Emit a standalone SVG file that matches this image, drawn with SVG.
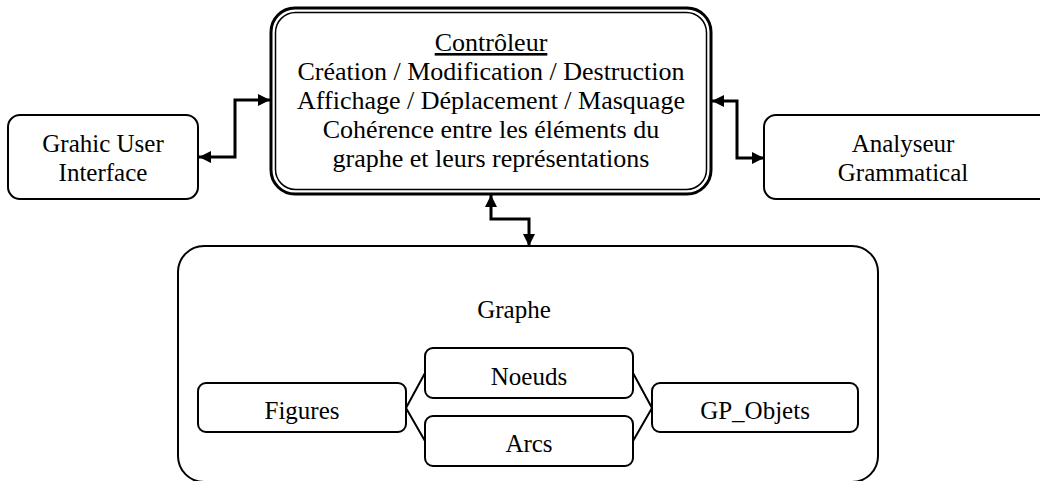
<svg xmlns="http://www.w3.org/2000/svg" width="1040" height="481" viewBox="0 0 1040 481">
<defs>
<style>
.box{fill:#fff;stroke:#000;stroke-width:2}
.t{font-size:25px;fill:#000;text-anchor:middle}
.tc{font-size:26px;fill:#000;text-anchor:middle}
.c{fill:none;stroke:#000;stroke-width:3}
.l{fill:none;stroke:#000;stroke-width:2}
</style>
<marker id="ah" viewBox="0 0 10 10" refX="10" refY="5" markerWidth="12" markerHeight="12" markerUnits="userSpaceOnUse" orient="auto-start-reverse">
<path d="M0,0 L10,5 L0,10 z" fill="#000"/>
</marker>
</defs>
<rect width="1040" height="481" fill="#fff"/>
<g id="controleur">
<rect x="271" y="8" width="440" height="186" rx="24" fill="#fff" stroke="#000" stroke-width="3"/>
<rect x="275.5" y="12.5" width="431" height="177" rx="20" fill="none" stroke="#000" stroke-width="1.5"/>
<text class="tc" style="font-family:'Liberation Serif'" x="491" y="51" text-decoration="underline">Contrôleur</text>
<text class="tc" style="font-family:'Liberation Serif'" x="491" y="80">Création / Modification / Destruction</text>
<text class="tc" style="font-family:'Liberation Serif'" x="491" y="109">Affichage / Déplacement / Masquage</text>
<text class="tc" style="font-family:'Liberation Serif'" x="491" y="138">Cohérence entre les éléments du</text>
<text class="tc" style="font-family:'Liberation Serif'" x="491" y="167">graphe et leurs représentations</text>
</g>
<g id="gui">
<rect class="box" x="8" y="115" width="190" height="84" rx="12"/>
<text class="t" style="font-family:'Liberation Serif'" x="103" y="152">Grahic User</text>
<text class="t" style="font-family:'Liberation Serif'" x="103" y="181">Interface</text>
</g>
<g id="analyseur">
<rect class="box" x="764" y="115" width="290" height="84" rx="12"/>
<text class="t" style="font-family:'Liberation Serif'" x="903" y="152">Analyseur</text>
<text class="t" style="font-family:'Liberation Serif'" x="903" y="181">Grammatical</text>
</g>
<g id="graphe">
<rect class="box" x="178" y="246" width="700" height="236" rx="26"/>
<text class="t" style="font-family:'Liberation Serif'" x="514" y="318">Graphe</text>
</g>
<g id="figures">
<rect class="box" x="198" y="383" width="208" height="49" rx="8"/>
<text class="t" style="font-family:'Liberation Serif'" x="302" y="419">Figures</text>
</g>
<g id="noeuds">
<rect class="box" x="425" y="348" width="208" height="50" rx="8"/>
<text class="t" style="font-family:'Liberation Serif'" x="529" y="385">Noeuds</text>
</g>
<g id="arcs">
<rect class="box" x="425" y="416" width="208" height="50" rx="8"/>
<text class="t" style="font-family:'Liberation Serif'" x="529" y="452">Arcs</text>
</g>
<g id="gp_objets">
<rect class="box" x="652" y="383" width="206" height="49" rx="8"/>
<text class="t" style="font-family:'Liberation Serif'" x="755" y="419">GP_Objets</text>
</g>
<g id="connectors">
<path class="c" d="M270,100 H235 V157 H199" marker-start="url(#ah)" marker-end="url(#ah)"/>
<path class="c" d="M712,101 H737 V158 H764" marker-start="url(#ah)" marker-end="url(#ah)"/>
<path class="c" d="M491,195 V219 H529 V246" marker-start="url(#ah)" marker-end="url(#ah)"/>
<path class="l" d="M425,373 L406,408 L425,441"/>
<path class="l" d="M633,373 L652,408 L633,441"/>
</g>
</svg>
